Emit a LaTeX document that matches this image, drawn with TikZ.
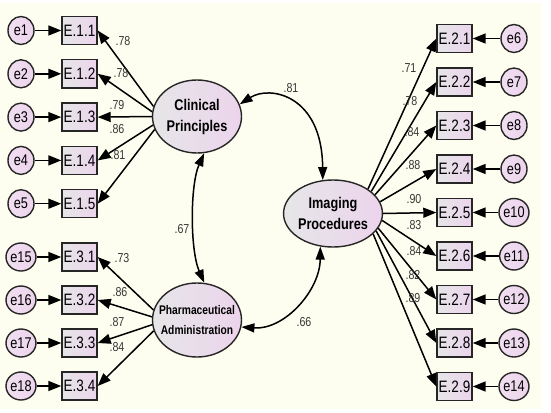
\documentclass[tikz,border=0pt]{standalone}
\usepackage{fontspec}
\newfontfamily\amosfont{Liberation Sans}[FakeStretch=0.82]
\usetikzlibrary{arrows.meta,shapes.geometric}
\definecolor{paper}{RGB}{254,254,240}
\definecolor{pinkend}{RGB}{236,212,236}
\definecolor{grayend}{RGB}{230,230,232}
\definecolor{numgray}{RGB}{55,55,55}
\tikzset{
  obs/.style={draw=black!85, line width=1.4pt, rectangle, minimum width=35pt,
    minimum height=28pt, inner sep=0pt, left color=grayend, right color=pinkend,
    font=\amosfont\fontsize{16.5}{18}\selectfont},
  err/.style={draw=black!85, line width=1.4pt, ellipse, minimum width=26pt,
    minimum height=28pt, inner sep=0pt, left color=pinkend!75!white, right color=pinkend,
    font=\amosfont\fontsize{15.5}{16}\selectfont},
  latent/.style={draw=black!85, line width=1.4pt, ellipse, inner sep=0pt,
    left color=grayend, right color=pinkend,
    font=\amosfont\bfseries\fontsize{15.5}{21}\selectfont},
  load/.style={line width=1.5pt, -{Triangle[length=13pt,width=10pt]}},
  cov/.style={line width=1.5pt, {Triangle[length=13pt,width=9pt]}-{Triangle[length=13pt,width=9pt]}},
  coef/.style={font=\amosfont\fontsize{13}{14}\selectfont, text=numgray, inner sep=0pt},
}
\begin{document}
\begin{tikzpicture}[x=1pt,y=-1pt]
\useasboundingbox (0,0) rectangle (551,412);
\fill[white] (0,0) rectangle (551,412);
\fill[paper] (0,3) rectangle (542,409);

% latent variables
\node[latent, align=center, minimum width=89pt, minimum height=73pt] (clin) at (197,116.5) {Clinical\\Principles};
\node[latent, align=center, minimum width=93pt, minimum height=67pt] (img) at (333,213.5) {Imaging\\Procedures};
\node[latent, minimum width=89pt, minimum height=74pt,
  font=\amosfont\bfseries\fontsize{12.5}{20}\selectfont] (pha) at (197,320)
  {\makebox[56pt]{\begin{tabular}{@{}c@{}}Pharmaceutical\\Administration\end{tabular}}};

% clinical principles block
\foreach \i/\y in {1/30.5,2/73.8,3/117.1,4/160.4,5/203.7} {
  \node[err] (e\i) at (21,\y) {e\i};
  \node[obs] (E1\i) at (79.5,\y) {E.1.\i};
  \draw[load] (e\i) -- (E1\i);
}
% pharmaceutical administration block
\foreach \i/\e/\y in {1/15/257,2/16/300,3/17/343,4/18/386} {
  \node[err] (e\e) at (21,\y) {e\e};
  \node[obs] (E3\i) at (79.5,\y) {E.3.\i};
  \draw[load] (e\e) -- (E3\i);
}
% imaging procedures block
\foreach \i/\e/\y in {1/6/38.5,2/7/82,3/8/125.5,4/9/169,5/10/212.5,6/11/256,7/12/299.5,8/13/343,9/14/386.5} {
  \node[err] (e\e) at (514,\y) {e\e};
  \node[obs] (E2\i) at (454.5,\y) {E.2.\i};
  \draw[load] (e\e) -- (E2\i);
}

% factor loadings
\foreach \i/\a in {1/167,2/174,3/180,4/191,5/197}
  \draw[load] (clin.\a) -- (E1\i.east);
\foreach \i/\a in {1/167,2/176,3/186,4/194}
  \draw[load] (pha.\a) -- (E3\i.east);
\foreach \i/\a in {1/35,2/30,3/24,4/14,5/0,6/-8,7/-18,8/-22,9/-27}
  \draw[load] (img.\a) -- (E2\i.west);

% loading estimates
\node[coef] (l11) at (123,41) {.78};
\node[coef] (l12) at (121,73) {.78};
\node[coef] (l13) at (117,105) {.79};
\node[coef] (l14) at (117,129) {.86};
\node[coef] (l15) at (118,155) {.81};
\node[coef] (l31) at (122,258) {.73};
\node[coef] (l32) at (120,292) {.86};
\node[coef] (l33) at (117,322) {.87};
\node[coef] (l34) at (117,347) {.84};
\node[coef] (l21) at (409,68) {.71};
\node[coef] (l22) at (410,101) {.78};
\node[coef] (l23) at (412,132) {.84};
\node[coef] (l24) at (413,165) {.88};
\node[coef] (l25) at (414,199) {.90};
\node[coef] (l26) at (414,225) {.83};
\node[coef] (l27) at (414,251) {.84};
\node[coef] (l28) at (413,275) {.82};
\node[coef] (l29) at (413,298) {.89};

% factor covariances
\draw[cov] (clin.16) .. controls (270,85) and (322,95) .. (img.107);
\draw[cov] (clin.281) .. controls (190,185) and (190,250) .. (pha.79);
\draw[cov] (pha.351) .. controls (285,330) and (320,290) .. (img.249);
\node[coef] (r1) at (291,88) {.81};
\node[coef] (r2) at (182,229) {.67};
\node[coef] (r3) at (304,322) {.66};
\end{tikzpicture}
\end{document}
